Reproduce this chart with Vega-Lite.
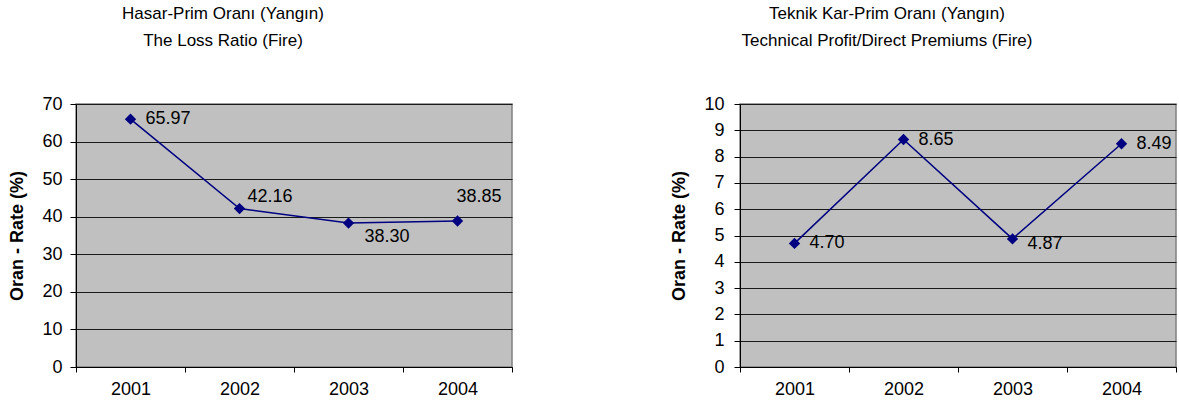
{
  "$schema": "https://vega.github.io/schema/vega-lite/v6.json",
  "padding": {"left": 8, "top": 4, "right": 0, "bottom": 0},
  "background": "white",
  "data": {"values": [
    {"year": "2001", "loss": 65.97, "profit": 4.70},
    {"year": "2002", "loss": 42.16, "profit": 8.65},
    {"year": "2003", "loss": 38.30, "profit": 4.87},
    {"year": "2004", "loss": 38.85, "profit": 8.49}
  ]},
  "spacing": 156,
  "config": {
    "font": "Liberation Sans",
    "view": {"fill": "#C0C0C0", "stroke": "#808080", "strokeWidth": 1.5},
    "title": {"font": "Liberation Sans", "fontSize": 17, "fontWeight": "normal", "color": "#000000", "lineHeight": 27, "anchor": "middle", "frame": "group", "dx": -71, "offset": 45},
    "axis": {"labelFont": "Liberation Sans", "labelFontSize": 18, "labelColor": "#000000", "titleFont": "Liberation Sans", "titleFontSize": 18, "titleFontWeight": "bold", "titleColor": "#000000", "domainColor": "#000000", "tickColor": "#000000", "gridColor": "#1a1a1a", "gridOpacity": 1, "gridWidth": 1}
  },
  "hconcat": [
    {
      "width": 436,
      "height": 263,
      "title": {"text": ["Hasar-Prim Oranı (Yangın)", "The Loss Ratio (Fire)"]},
      "encoding": {
        "x": {"field": "year", "type": "ordinal", "title": null,
              "scale": {"type": "band", "paddingInner": 0, "paddingOuter": 0},
              "axis": {"labelAngle": 0, "tickBand": "extent", "tickSize": 5, "labelPadding": 8, "grid": false, "domainWidth": 1}},
        "y": {"field": "loss", "type": "quantitative", "title": "Oran - Rate (%)",
              "scale": {"domain": [0, 70], "nice": false},
              "axis": {"values": [0, 10, 20, 30, 40, 50, 60, 70], "tickSize": 6, "labelPadding": 8, "titlePadding": 15, "grid": true, "domainWidth": 1}}
      },
      "layer": [
        {"mark": {"type": "line", "color": "#000080", "strokeWidth": 1.5}},
        {"mark": {"type": "point", "shape": "diamond", "filled": true, "color": "#000080", "opacity": 1, "size": 130}},
        {"transform": [{"filter": "datum.year == '2001'"}],
         "mark": {"type": "text", "align": "left", "baseline": "middle", "dx": 15, "dy": 0, "fontSize": 18, "color": "#000000"},
         "encoding": {"text": {"field": "loss", "type": "quantitative", "format": ".2f"}}},
        {"transform": [{"filter": "datum.year == '2002'"}],
         "mark": {"type": "text", "align": "left", "baseline": "middle", "dx": 8, "dy": -12, "fontSize": 18, "color": "#000000"},
         "encoding": {"text": {"field": "loss", "type": "quantitative", "format": ".2f"}}},
        {"transform": [{"filter": "datum.year == '2003'"}],
         "mark": {"type": "text", "align": "left", "baseline": "middle", "dx": 16, "dy": 14, "fontSize": 18, "color": "#000000"},
         "encoding": {"text": {"field": "loss", "type": "quantitative", "format": ".2f"}}},
        {"transform": [{"filter": "datum.year == '2004'"}],
         "mark": {"type": "text", "align": "left", "baseline": "middle", "dx": -1, "dy": -24, "fontSize": 18, "color": "#000000"},
         "encoding": {"text": {"field": "loss", "type": "quantitative", "format": ".2f"}}}
      ]
    },
    {
      "width": 436,
      "height": 263,
      "title": {"text": ["Teknik Kar-Prim Oranı (Yangın)", "Technical Profit/Direct Premiums (Fire)"]},
      "encoding": {
        "x": {"field": "year", "type": "ordinal", "title": null,
              "scale": {"type": "band", "paddingInner": 0, "paddingOuter": 0},
              "axis": {"labelAngle": 0, "tickBand": "extent", "tickSize": 5, "labelPadding": 8, "grid": false, "domainWidth": 1}},
        "y": {"field": "profit", "type": "quantitative", "title": "Oran - Rate (%)",
              "scale": {"domain": [0, 10], "nice": false},
              "axis": {"values": [0, 1, 2, 3, 4, 5, 6, 7, 8, 9, 10], "tickSize": 6, "labelPadding": 10, "titlePadding": 15, "grid": true, "domainWidth": 1}}
      },
      "layer": [
        {"mark": {"type": "line", "color": "#000080", "strokeWidth": 1.5}},
        {"mark": {"type": "point", "shape": "diamond", "filled": true, "color": "#000080", "opacity": 1, "size": 130}},
        {"transform": [{"filter": "datum.year != '2003'"}],
         "mark": {"type": "text", "align": "left", "baseline": "middle", "dx": 15, "dy": 0, "fontSize": 18, "color": "#000000"},
         "encoding": {"text": {"field": "profit", "type": "quantitative", "format": ".2f"}}},
        {"transform": [{"filter": "datum.year == '2003'"}],
         "mark": {"type": "text", "align": "left", "baseline": "middle", "dx": 15, "dy": 5, "fontSize": 18, "color": "#000000"},
         "encoding": {"text": {"field": "profit", "type": "quantitative", "format": ".2f"}}}
      ]
    }
  ]
}
